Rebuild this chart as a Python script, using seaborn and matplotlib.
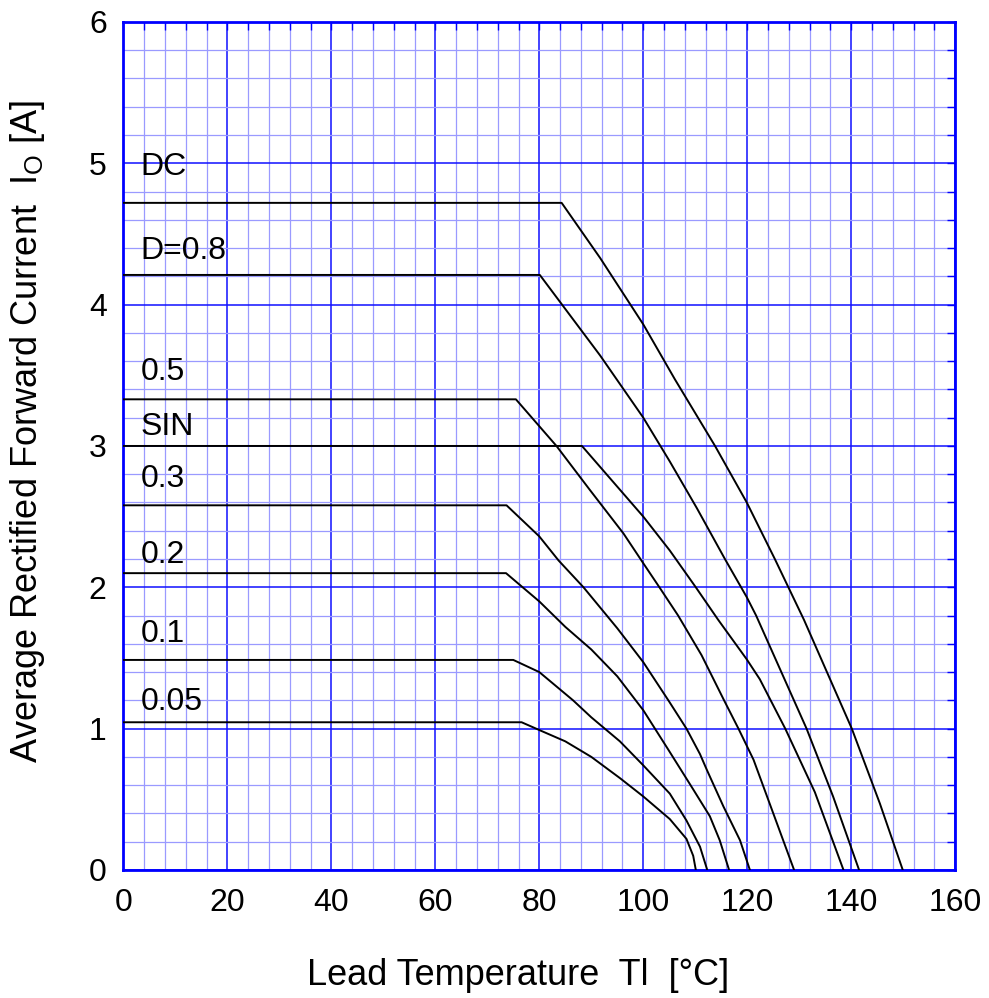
import pandas as pd
import matplotlib
matplotlib.use("Agg")
import matplotlib.pyplot as plt
from matplotlib.ticker import MultipleLocator
import seaborn as sns

# Derating curves: lead temperature [degC] vs current [A]
dc_t = [0, 84.3, 91.7, 100, 106.1, 113.8, 119.9, 125.3, 130.9, 140.1, 145.5, 149.9]
dc_i = [4.72, 4.72, 4.33, 3.86, 3.47, 3.0, 2.6, 2.2, 1.77, 1.0, 0.47, 0]

d08_t = [0, 80.1, 91.7, 100, 105.1, 110.3, 115.7, 119.9, 121.7, 131.4, 136.5, 141.5]
d08_i = [4.21, 4.21, 3.64, 3.20, 2.89, 2.56, 2.2, 1.93, 1.80, 1.0, 0.52, 0]

d05_t = [0, 75.5, 83.3, 89.7, 96.2, 100, 103.1, 106.7, 111.2, 115.4, 118.3, 121.2, 125, 129]
d05_i = [3.33, 3.33, 3.0, 2.69, 2.38, 2.17, 2.0, 1.80, 1.52, 1.21, 1.0, 0.78, 0.4, 0]

sin_t = [0, 88.2, 100, 105.1, 110.1, 114.4, 119.9, 122.4, 127.3, 133, 138.5]
sin_i = [3.0, 3.0, 2.5, 2.26, 2.0, 1.77, 1.49, 1.35, 1.0, 0.55, 0]

d03_t = [0, 73.7, 80, 83.7, 88.5, 95, 100, 105, 108.3, 110.9, 112.2, 115.4, 118.6, 120.5]
d03_i = [2.58, 2.58, 2.36, 2.19, 2.0, 1.71, 1.47, 1.19, 1.0, 0.82, 0.71, 0.45, 0.21, 0]

d02_t = [0, 73.6, 80, 85, 90, 95, 100, 105, 109.6, 112.8, 114.7, 116.5]
d02_i = [2.10, 2.10, 1.90, 1.72, 1.56, 1.37, 1.13, 0.84, 0.57, 0.38, 0.21, 0]

d01_t = [0, 75, 80, 86.5, 90, 95.5, 100, 105.1, 108.3, 110.9, 112.3]
d01_i = [1.486, 1.486, 1.40, 1.20, 1.08, 0.91, 0.74, 0.54, 0.35, 0.165, 0]

d005_t = [0, 76.6, 80, 85, 90, 95.5, 100, 105.1, 108.3, 109.6, 110.1]
d005_i = [1.045, 1.045, 0.99, 0.91, 0.80, 0.65, 0.52, 0.36, 0.22, 0.10, 0]

series_names = ["DC", "D=0.8", "0.5", "SIN", "0.3", "0.2", "0.1", "0.05"]
series_t = [dc_t, d08_t, d05_t, sin_t, d03_t, d02_t, d01_t, d005_t]
series_i = [dc_i, d08_i, d05_i, sin_i, d03_i, d02_i, d01_i, d005_i]

# label positions (left x, baseline y) in data units
label_x = 3.35
label_y = [4.92, 4.32, 3.47, 3.08, 2.71, 2.17, 1.61, 1.13]


def main():
    sns.set_style("white")
    plt.rcParams["font.family"] = ["Liberation Sans", "DejaVu Sans"]
    plt.rcParams["mathtext.fontset"] = "custom"
    plt.rcParams["mathtext.rm"] = "Liberation Sans"
    plt.rcParams["text.color"] = "black"
    plt.rcParams["axes.labelcolor"] = "black"

    frames = []
    for name, t, i in zip(series_names, series_t, series_i):
        frames.append(pd.DataFrame({"T": t, "I": i, "series": name}))
    df = pd.concat(frames, ignore_index=True)

    fig = plt.figure(figsize=(9.89, 9.98), dpi=100)
    ax = fig.add_axes([0.1247, 0.1283, 0.8412, 0.8497])

    sns.lineplot(data=df, x="T", y="I", hue="series", palette=["black"] * len(series_names),
                 estimator=None, sort=False, legend=False, linewidth=1.4, ax=ax, zorder=3)

    ax.set_xlim(0, 160)
    ax.set_ylim(0, 6)
    ax.xaxis.set_major_locator(MultipleLocator(20))
    ax.xaxis.set_minor_locator(MultipleLocator(4))
    ax.yaxis.set_major_locator(MultipleLocator(1))
    ax.yaxis.set_minor_locator(MultipleLocator(0.2))

    ax.set_axisbelow(True)
    ax.grid(which="minor", color="#9a9aff", linewidth=0.9)
    ax.grid(which="major", color="#1010ff", linewidth=1.1)

    for side in ["left", "right", "top", "bottom"]:
        ax.spines[side].set_visible(True)
        ax.spines[side].set_color("#0000ff")
        ax.spines[side].set_linewidth(2)

    ax.tick_params(which="both", direction="in", top=True, right=True, color="#0000ff",
                   length=6, width=1, labelcolor="black")
    ax.tick_params(axis="x", which="major", labelsize=23, pad=13)
    ax.tick_params(axis="y", which="major", labelsize=23, pad=12)

    for name, y in zip(series_names, label_y):
        ax.text(label_x, y, name, fontsize=23, color="black", ha="left", va="baseline", zorder=4)

    ax.set_xlabel("Lead Temperature  Tl  [\u00b0C]", fontsize=26, color="black")
    ax.xaxis.label.set_va("baseline")
    ax.xaxis.set_label_coords(0.475, -0.1356)

    ax.set_ylabel("Average Rectified Forward Current  I$_\\mathregular{O}$ [A]", fontsize=26,
                  color="black")
    ax.yaxis.label.set_va("baseline")
    ax.yaxis.set_label_coords(-0.104, 0.5165)

    fig.savefig("out.png", dpi=100)


if __name__ == "__main__":
    main()
